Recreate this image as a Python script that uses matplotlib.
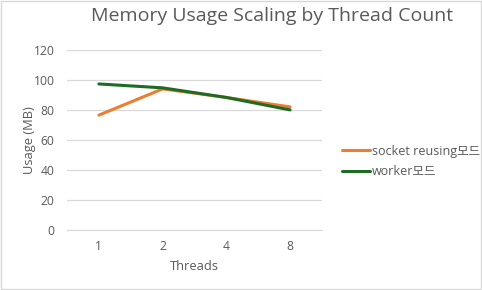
import matplotlib
matplotlib.use("Agg")
import matplotlib.pyplot as plt

plt.rcParams['font.family'] = ['Open Sans', 'Noto Sans CJK KR', 'DejaVu Sans']

threads = ["1", "2", "4", "8"]
socket_reusing = [76.5, 94.0, 88.3, 82.0]
worker = [97.3, 94.7, 88.3, 80.0]
yticks = [0, 20, 40, 60, 80, 100, 120]

txt = "#595959"
grid = "#d9d9d9"

fig = plt.figure(figsize=(4.82, 2.9), dpi=100)
fig.patch.set_facecolor("white")
# light frame round the chart
fig.patches.append(plt.Rectangle((0.002, 0.003), 0.995, 0.993, transform=fig.transFigure,
                                 fill=False, edgecolor=grid, linewidth=1))

ax = fig.add_axes([0.139, 0.207, 0.529, 0.621])
xs = range(len(threads))
ax.plot(xs, socket_reusing, color="#ed7d31", linewidth=2.2, label="socket reusing모드",
        solid_capstyle="round")
ax.plot(xs, worker, color="#1e6b24", linewidth=2.2, label="worker모드",
        solid_capstyle="round")

ax.set_xlim(-0.5, 3.5)
ax.set_ylim(0, 120)
ax.set_yticks(yticks)
ax.set_xticks(list(xs))
ax.set_xticklabels(threads)
ax.yaxis.grid(True, color=grid, linewidth=0.9)
ax.set_axisbelow(True)
for s in ["top", "right", "left"]:
    ax.spines[s].set_visible(False)
ax.spines["bottom"].set_color(grid)
ax.tick_params(axis="both", length=0, colors=txt, labelsize=8.7)
ax.tick_params(axis="y", pad=9)
ax.tick_params(axis="x", pad=7)

ax.set_xlabel("Threads", color=txt, fontsize=9.3, labelpad=5)
ax.set_ylabel("Usage (MB)", color=txt, fontsize=9.3, labelpad=0)
ax.yaxis.set_label_coords(-0.12, 0.5)
fig.suptitle("Memory Usage Scaling by Thread Count", x=0.565, y=0.975,
             color=txt, fontsize=14)

leg = ax.legend(loc="center left", bbox_to_anchor=(1.035, 0.38), frameon=False,
                fontsize=9, labelcolor=txt, handlelength=2.2, handletextpad=0.2,
                labelspacing=0.6)

fig.savefig("out.png", dpi=100)
